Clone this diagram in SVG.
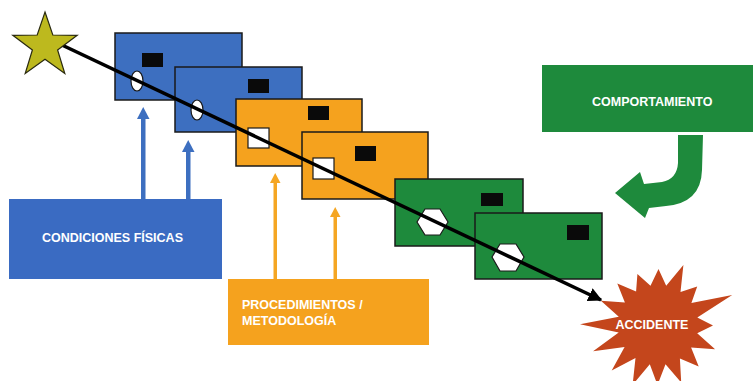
<svg xmlns="http://www.w3.org/2000/svg" width="755" height="381" viewBox="0 0 755 381">
<defs>
<style>
.card{stroke:#1a1a1a;stroke-width:1.5}
.blue{fill:#3D6FC0}
.orange{fill:#F5A21E}
.green{fill:#1E8A3C}
.mark{fill:#0a0a0a}
.hole{fill:#ffffff;stroke:#1a1a1a;stroke-width:1.2}
.lbl{font-family:"Liberation Sans",Arial,sans-serif;font-weight:bold;font-size:12.5px;fill:#ffffff}
</style>
<marker id="ah" viewBox="0 0 10 10" refX="9" refY="5" markerWidth="4" markerHeight="4" orient="auto" markerUnits="strokeWidth">
<path d="M0,0 L10,5 L0,10 Z" fill="#000"/>
</marker>
</defs>
<rect width="755" height="381" fill="#ffffff"/>

<g id="card-blue-1">
<rect class="card blue" x="115" y="33" width="127" height="67"/>
<rect class="mark" x="142" y="53" width="21" height="14"/>
<ellipse class="hole" cx="137" cy="81" rx="6" ry="10"/>
</g>
<g id="card-blue-2">
<rect class="card blue" x="175" y="67" width="127" height="65"/>
<rect class="mark" x="248" y="79" width="21" height="14"/>
<ellipse class="hole" cx="197" cy="110" rx="6" ry="10"/>
</g>
<g id="card-orange-1">
<rect class="card orange" x="236" y="99" width="126" height="67"/>
<rect class="mark" x="308" y="106" width="21" height="14"/>
<rect class="hole" x="248" y="128" width="21" height="20"/>
</g>
<g id="card-orange-2">
<rect class="card orange" x="302" y="132" width="126" height="67"/>
<rect class="mark" x="355" y="146" width="21" height="15"/>
<rect class="hole" x="313" y="158" width="21" height="21"/>
</g>
<g id="card-green-1">
<rect class="card green" x="395" y="179" width="128" height="67"/>
<rect class="mark" x="481" y="193" width="22" height="13"/>
<polygon class="hole" points="417,222 425,209 440,209 448,222 440,235 425,235"/>
</g>
<g id="card-green-2">
<rect class="card green" x="475" y="213" width="127" height="66"/>
<rect class="mark" x="567" y="225" width="22" height="15"/>
<polygon class="hole" points="492,257 500,244 516,244 524,257 516,271 500,271"/>
</g>

<g id="connectors">
<line x1="45" y1="37" x2="601" y2="300" stroke="#000" stroke-width="3.5" marker-end="url(#ah)"/>
<g fill="#3D6FC0">
<rect x="141" y="117" width="4.5" height="83"/>
<polygon points="137,119 143.2,107 149.5,119"/>
<rect x="186" y="150" width="4.5" height="50"/>
<polygon points="182,152 188.2,140 194.5,152"/>
</g>
<g fill="#F5A623">
<rect x="273.5" y="181" width="3.5" height="98"/>
<polygon points="270,183 275.2,173 280.5,183"/>
<rect x="333.5" y="215" width="3.5" height="64"/>
<polygon points="330,217 335.2,207 340.5,217"/>
</g>
<path d="M678,135 L703,135 L702,170 Q701,203 666,206 L649,208 L645,218 L615,193 L640,172 L644,184 L662,182 Q677,179 678,163 Z" fill="#1E8A3C"/>
</g>

<g id="start">
<polygon points="45,12 52.8,35 77.2,35.3 57.6,50 64.8,73.5 45,59.3 25.2,73.5 32.4,50 12.8,35.3 37.2,35" fill="#BDB91E" stroke="#2a2a10" stroke-width="1.2"/>
</g>

<g id="condiciones">
<rect x="9" y="199" width="213" height="80" fill="#3A6BC2"/>
<text class="lbl" x="42" y="242">CONDICIONES FÍSICAS</text>
</g>

<g id="procedimientos">
<rect x="228" y="279" width="201" height="66" fill="#F5A21E"/>
<text class="lbl" x="242" y="309">PROCEDIMIENTOS /</text>
<text class="lbl" x="242" y="325">METODOLOGÍA</text>
</g>

<g id="comportamiento">
<rect x="542" y="65" width="211" height="67" fill="#1E8A3C"/>
<text class="lbl" x="592" y="106">COMPORTAMIENTO</text>
</g>

<g id="accidente">
<polygon fill="#C4461C" points="683.4,265.1 680.5,291.9 697.2,286.4 691.4,303.1 732.2,295 697.3,317.5 713,325.5 697.2,333.2 715.1,349.2 691.1,347.5 698.7,366.4 679.9,358.4 681.2,382.5 665.5,364.3 657.5,385 649.8,364.2 632.6,384.9 635.5,358.1 611.7,370.6 624.6,346.9 593.1,351.2 618.7,332.5 580,324.3 618.8,316.8 600.9,300.8 624.9,302.5 617.3,283.6 636.1,291.6 637.4,274 650.5,285.7 658.5,269 666.2,285.8"/>
<text class="lbl" x="652" y="329" text-anchor="middle">ACCIDENTE</text>
</g>
</svg>
